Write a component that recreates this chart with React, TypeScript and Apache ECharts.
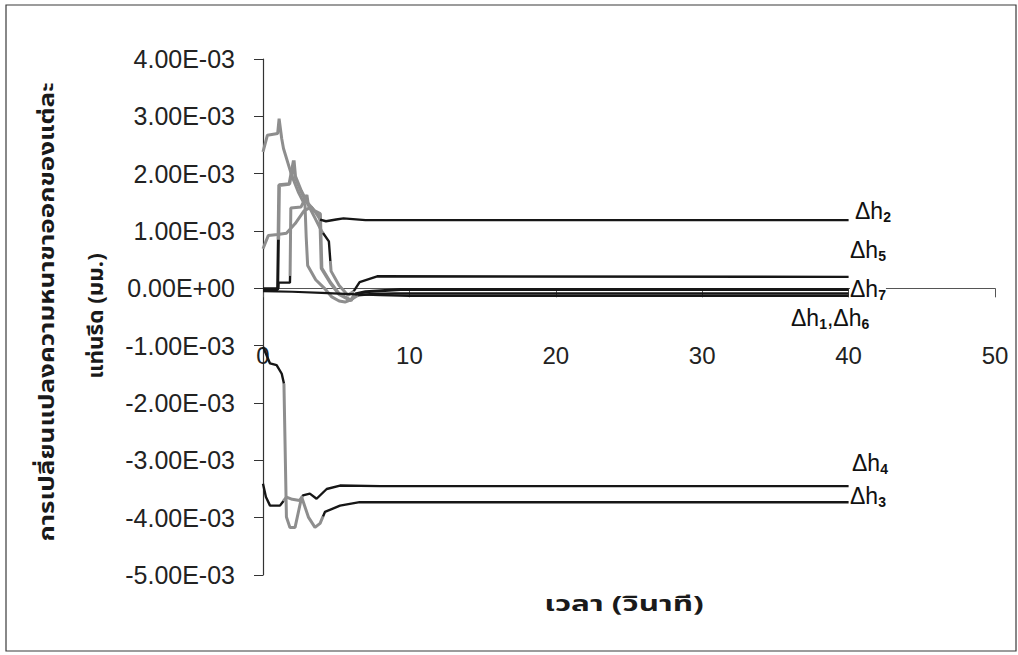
import React, { useEffect, useRef } from "react";
import * as echarts from "echarts";

// Thickness change at the exit of each stand (mm) versus time (s)
const dh1: [number, number][] = [
  [0, 2.38e-3], [0.3, 2.67e-3], [1.0, 2.7e-3], [1.1, 2.96e-3], [1.28, 2.61e-3],
  [1.4, 2.44e-3], [1.96, 1.97e-3], [2.41, 1.68e-3], [2.87, 1.45e-3], [2.95, 0.9e-3],
  [3.05, 0.4e-3], [3.6, 0.15e-3], [4.2, 0.0], [4.7, -0.15e-3], [5.2, -0.22e-3],
  [5.6, -0.24e-3], [6.0, -0.2e-3], [6.5, -0.12e-3], [7.5, -0.1e-3], [9, -0.09e-3],
  [40, -0.09e-3],
];
const dh2: [number, number][] = [
  [0, 0.69e-3], [0.36, 0.92e-3], [1.0, 0.94e-3], [1.6, 0.96e-3], [2.2, 1.13e-3],
  [2.8, 1.35e-3], [3.3, 1.42e-3], [3.6, 1.32e-3], [3.9, 1.2e-3], [4.3, 1.17e-3],
  [5.0, 1.2e-3], [5.5, 1.22e-3], [7, 1.19e-3], [40, 1.19e-3],
];
const dh3: [number, number][] = [
  [0, -1.02e-3], [0.48, -1.31e-3], [0.93, -1.34e-3], [1.28, -1.49e-3], [1.43, -1.66e-3],
  [1.6, -3.99e-3], [1.84, -4.17e-3], [2.19, -4.17e-3], [2.64, -3.64e-3], [3.1, -3.99e-3],
  [3.55, -4.17e-3], [3.9, -4.1e-3], [4.23, -3.9e-3], [5.26, -3.79e-3], [6.6, -3.73e-3],
  [40, -3.73e-3],
];
const dh4: [number, number][] = [
  [0, -3.41e-3], [0.2, -3.64e-3], [0.48, -3.79e-3], [1.16, -3.79e-3], [1.6, -3.64e-3],
  [2.0, -3.68e-3], [2.5, -3.7e-3], [2.73, -3.61e-3], [3.2, -3.58e-3], [3.66, -3.67e-3],
  [4.35, -3.5e-3], [5.26, -3.44e-3], [8, -3.45e-3], [40, -3.45e-3],
];
const dh5: [number, number][] = [
  [0, 0.0], [1.05, 0.0], [1.06, 0.1e-3], [1.84, 0.1e-3], [1.85, 0.22e-3], [1.9, 1.4e-3],
  [2.6, 1.42e-3], [3.0, 1.63e-3], [3.1, 1.45e-3], [3.5, 1.25e-3], [4.0, 1.0e-3],
  [4.5, 0.82e-3], [4.65, 0.3e-3], [5.2, 0.05e-3], [5.8, -0.12e-3], [6.2, -0.05e-3],
  [6.6, 0.11e-3], [7.8, 0.21e-3], [40, 0.2e-3],
];
const dh6: [number, number][] = [
  [0, -0.05e-3], [2, -0.06e-3], [4, -0.08e-3], [6, -0.1e-3], [8, -0.12e-3],
  [10, -0.13e-3], [40, -0.13e-3],
];
const dh7: [number, number][] = [
  [0, -0.02e-3], [1.0, -0.02e-3], [1.05, 0.85e-3], [1.1, 1.8e-3], [1.8, 1.82e-3],
  [2.1, 2.23e-3], [2.2, 1.95e-3], [2.6, 1.7e-3], [3.0, 1.5e-3], [3.5, 1.35e-3],
  [3.9, 1.3e-3], [4.0, 0.35e-3], [4.6, 0.1e-3], [5.2, -0.1e-3], [6.0, -0.21e-3],
  [6.3, -0.1e-3], [7, -0.06e-3], [9.4, -0.02e-3], [40, -0.02e-3],
];

const yTitleLines = ["การเปลี่ยนแปลงความหนาขาออกของแต่ละ", "แท่นรีด (มม.)"];
const xTitle = "เวลา (วินาที)";

const BLACK = "#161616";
const GRAY = "#8e8e8e";
const NUM_FONT = "'Liberation Sans', Arial, sans-serif";
const THAI_FONT = "'Noto Sans Thai', 'Noto Sans', 'DejaVu Sans', sans-serif";

// each curve: black while steady, grey during its transient window(s)
const curves = [
  { data: dh1, width: 2.4, grey: [[0, 6.5]] },
  { data: dh2, width: 2.4, grey: [[0, 3.9]] },
  { data: dh3, width: 2.4, grey: [[1.43, 4.1]] },
  { data: dh4, width: 2.4, grey: [[1.4, 2.7]] },
  { data: dh5, width: 2.4, grey: [[1.85, 4.1], [4.6, 6.2]] },
  { data: dh6, width: 2.2, grey: [] as number[][] },
  { data: dh7, width: 3, grey: [[1.05, 6.3]] },
];

const sci = (v: number) => {
  const [m, e] = v.toExponential(2).split("e");
  const n = parseInt(e, 10);
  return `${m}E${n < 0 ? "-" : "+"}${String(Math.abs(n)).padStart(2, "0")}`;
};

// value of a curve at time t (linear between its points)
const valueAt = (data: [number, number][], t: number) => {
  for (let i = 1; i < data.length; i++) {
    const [t0, v0] = data[i - 1];
    const [t1, v1] = data[i];
    if (t >= t0 && t <= t1) return v0 + ((v1 - v0) * (t - t0)) / (t1 - t0 || 1);
  }
  return data[data.length - 1][1];
};

// cut a curve into black / grey runs
const splitCurve = (data: [number, number][], grey: number[][]) => {
  const tMin = data[0][0];
  const tMax = data[data.length - 1][0];
  const runs: { color: string; lo: number; hi: number }[] = [];
  let cur = tMin;
  grey.forEach(([a, b]) => {
    if (a > cur) runs.push({ color: BLACK, lo: cur, hi: a });
    runs.push({ color: GRAY, lo: Math.max(a, tMin), hi: b });
    cur = b;
  });
  if (cur < tMax) runs.push({ color: BLACK, lo: cur, hi: tMax });
  return runs.map((r) => {
    const pts: [number, number][] = [[r.lo, valueAt(data, r.lo)]];
    data.forEach(([t, v]) => {
      if (t > r.lo && t < r.hi) pts.push([t, v]);
    });
    pts.push([r.hi, valueAt(data, r.hi)]);
    return { color: r.color, pts };
  });
};

const richDh = {
  m: { fontSize: 23, fontFamily: NUM_FONT, fill: "#111", lineHeight: 25 },
  s: { fontSize: 14, fontFamily: NUM_FONT, fontWeight: "bold", fill: "#111", lineHeight: 13, verticalAlign: "bottom" },
};

const seriesLabels = [
  { text: "{m|Δh}{s|2}", x: 855, y: 211 },
  { text: "{m|Δh}{s|5}", x: 850, y: 250 },
  { text: "{m|Δh}{s|7}", x: 850, y: 289 },
  { text: "{m|Δh}{s|1}{m|,Δh}{s|6}", x: 791, y: 318 },
  { text: "{m|Δh}{s|4}", x: 852, y: 463 },
  { text: "{m|Δh}{s|3}", x: 850, y: 496 },
];

const titleText = (text: string, x: number, y: number, size: number, stretch: number, rotation = 0) => ({
  type: "text",
  x,
  y,
  rotation,
  scaleX: stretch,
  style: {
    text,
    font: `bold ${size}px ${THAI_FONT}`,
    fill: "#1a1a1a",
    align: "center",
    verticalAlign: "middle",
  },
});

export default function App() {
  const ref = useRef<HTMLDivElement>(null);

  useEffect(() => {
    if (!ref.current) return;
    const chart = echarts.init(ref.current, null, { renderer: "svg" });

    const graphic: any[] = [
      {
        type: "rect",
        shape: { x: 6, y: 5, width: 1010, height: 646 },
        style: { fill: "none", stroke: "#3a3a3a", lineWidth: 1.2 },
        silent: true,
      },
      titleText(yTitleLines[0], 48, 312, 21, 1.24, Math.PI / 2),
      titleText(yTitleLines[1], 97, 316, 21, 1.07, Math.PI / 2),
      titleText(xTitle, 624, 605, 21, 1.5),
      ...seriesLabels.map((l) => ({
        type: "text",
        x: l.x,
        y: l.y,
        z: 10,
        style: {
          text: l.text,
          rich: richDh,
          align: "left",
          verticalAlign: "middle",
          backgroundColor: "#fff",
        },
      })),
    ];

    const series: any[] = [];
    curves.forEach((c) => {
      splitCurve(c.data, c.grey).forEach((run) => {
        series.push({
          type: "line",
          data: run.pts,
          showSymbol: false,
          symbol: "none",
          lineStyle: { width: run.color === GRAY ? c.width + 0.6 : c.width, color: run.color },
          itemStyle: { color: run.color },
          z: run.color === GRAY ? 2 : 3,
        });
      });
    });

    chart.setOption({
      animation: false,
      backgroundColor: "#ffffff",
      grid: { left: 263, right: 23, top: 59, bottom: 80, containLabel: false },
      xAxis: {
        type: "value",
        min: 0,
        max: 50,
        interval: 10,
        axisLine: { onZero: true, lineStyle: { color: "#555", width: 1 } },
        axisTick: { show: true, length: 9, lineStyle: { color: "#555" } },
        axisLabel: { margin: -232, fontSize: 24, color: "#222", fontFamily: NUM_FONT },
        splitLine: { show: false },
      },
      yAxis: {
        type: "value",
        min: -0.005,
        max: 0.004,
        interval: 0.001,
        axisLine: { show: true, onZero: false, lineStyle: { color: "#333", width: 1.2 } },
        axisTick: { show: true, length: 9, lineStyle: { color: "#333" } },
        axisLabel: { margin: 28, fontSize: 25, color: "#222", fontFamily: NUM_FONT, formatter: sci },
        splitLine: { show: false },
      },
      graphic,
      series,
    });

    return () => chart.dispose();
  }, []);

  return (
    <div
      ref={ref}
      style={{ position: "fixed", left: 0, top: 0, width: 1018, height: 655, background: "#fff" }}
    />
  );
}
